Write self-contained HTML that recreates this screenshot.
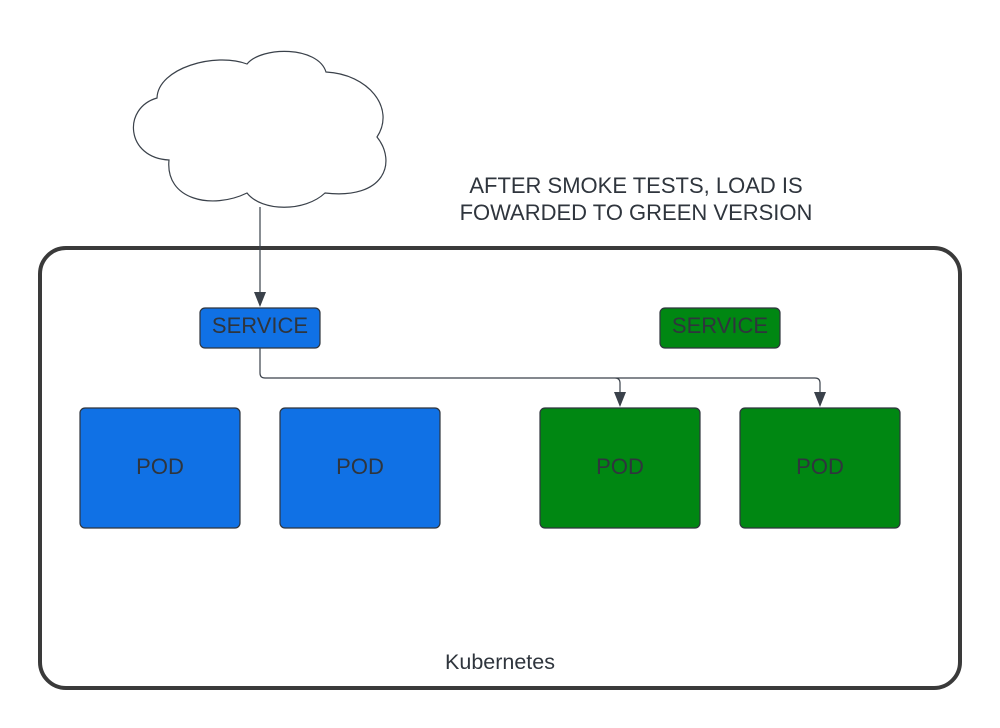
<!DOCTYPE html>
<html><head><style>body{margin:0;background:#fff}svg{display:block}</style></head><body>
<svg width="1000" height="728" viewBox="0 0 1000 728" xmlns="http://www.w3.org/2000/svg" font-family="Liberation Sans, sans-serif">
<rect width="1000" height="728" fill="#fff"/>
<path d="M157,98 C158,68 215,52 247,64 C262,46 318,46 326,72 C368,74 396,108 377,137 C397,162 385,200 325,193 C305,212 262,212 247,193 C212,210 165,200 169,160 C126,158 122,108 157,98 Z" fill="#fff" stroke="#3a414a" stroke-width="1.2"/>
<text x="636" y="193" font-size="22" fill="#2f353d" text-anchor="middle">AFTER SMOKE TESTS, LOAD IS</text>
<text x="636" y="220" font-size="22" fill="#2f353d" text-anchor="middle">FOWARDED TO GREEN VERSION</text>
<rect x="40" y="248" width="920" height="440" rx="26" fill="none" stroke="#3a3a3a" stroke-width="4"/>
<line x1="260" y1="207" x2="260" y2="294" stroke="#3a414a" stroke-width="1.2"/>
<polygon points="254,292 266,292 260,307" fill="#3a414a"/>
<rect x="200" y="308" width="120" height="40" rx="5" fill="#1071e5" stroke="#2f353d" stroke-width="1.2"/>
<text x="260" y="333" font-size="22" fill="#2f353d" text-anchor="middle">SERVICE</text>
<rect x="660" y="308" width="120" height="40" rx="5" fill="#008712" stroke="#2f353d" stroke-width="1.2"/>
<text x="720" y="333" font-size="22" fill="#2f353d" text-anchor="middle">SERVICE</text>
<path d="M260,348 V373 Q260,378 265,378 H615 Q620,378 620,383 V394 M615,378 H815 Q820,378 820,383 V394" fill="none" stroke="#3a414a" stroke-width="1.2"/>
<polygon points="614,392 626,392 620,407" fill="#3a414a"/>
<polygon points="814,392 826,392 820,407" fill="#3a414a"/>
<g stroke="#2f353d" stroke-width="1.2">
<rect x="80" y="408" width="160" height="120" rx="5" fill="#1071e5"/>
<rect x="280" y="408" width="160" height="120" rx="5" fill="#1071e5"/>
<rect x="540" y="408" width="160" height="120" rx="5" fill="#008712"/>
<rect x="740" y="408" width="160" height="120" rx="5" fill="#008712"/>
</g>
<g font-size="22" fill="#2f353d" text-anchor="middle">
<text x="160" y="474">POD</text><text x="360" y="474">POD</text>
<text x="620" y="474">POD</text><text x="820" y="474">POD</text>
</g>
<text x="500" y="669" font-size="21.5" fill="#2f353d" text-anchor="middle">Kubernetes</text>
</svg>
</body></html>
